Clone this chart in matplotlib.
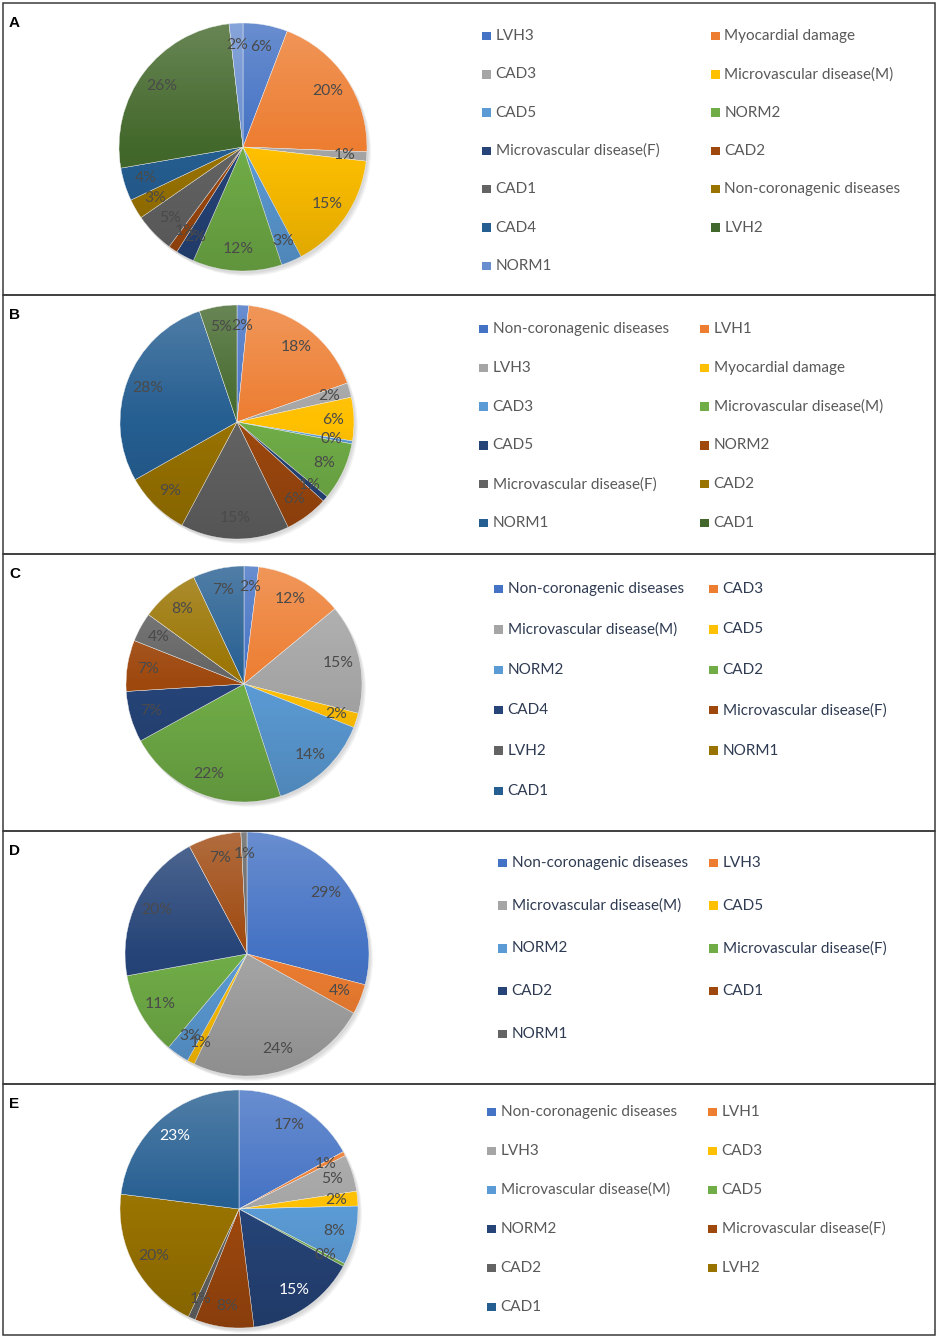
"""Five pie charts (A-E): class composition per cluster, Excel-style."""

import matplotlib
matplotlib.use("Agg")
import matplotlib.pyplot as plt
from matplotlib.patches import Rectangle, Circle
import numpy as np

plt.rcParams.update({
    "font.family": ["Lato", "DejaVu Sans"],
    "figure.dpi": 100,
})

W, H = 938, 1339

# Office palette, in series order
PALETTE = ["#4472C4", "#ED7D31", "#A5A5A5", "#FFC000", "#5B9BD5", "#70AD47",
           "#264478", "#9E480E", "#636363", "#997300", "#255E91", "#43682B",
           "#698ED0"]

A_LABELS = ["LVH3", "Myocardial damage", "CAD3", "Microvascular disease(M)",
            "CAD5", "NORM2", "Microvascular disease(F)", "CAD2", "CAD1",
            "Non-coronagenic diseases", "CAD4", "LVH2", "NORM1"]
A_VALUES = [5.8, 19.8, 1.2, 15.4, 2.7, 11.6, 2.4, 1.2, 5.2, 2.6, 4.3, 25.9, 1.8]

B_LABELS = ["Non-coronagenic diseases", "LVH1", "LVH3", "Myocardial damage",
            "CAD3", "Microvascular disease(M)", "CAD5", "NORM2",
            "Microvascular disease(F)", "CAD2", "NORM1", "CAD1"]
B_VALUES = [1.6, 18.0, 2.0, 6.0, 0.4, 8.0, 0.8, 6.0, 15.0, 9.0, 28.0, 5.2]

C_LABELS = ["Non-coronagenic diseases", "CAD3", "Microvascular disease(M)",
            "CAD5", "NORM2", "CAD2", "CAD4", "Microvascular disease(F)",
            "LVH2", "NORM1", "CAD1"]
C_VALUES = [2.0, 12.0, 15.0, 2.0, 14.0, 22.0, 7.0, 7.0, 4.0, 8.0, 7.0]

D_LABELS = ["Non-coronagenic diseases", "LVH3", "Microvascular disease(M)",
            "CAD5", "NORM2", "Microvascular disease(F)", "CAD2", "CAD1",
            "NORM1"]
D_VALUES = [29.0, 4.0, 24.0, 1.0, 3.0, 11.0, 20.0, 7.0, 0.8]

E_LABELS = ["Non-coronagenic diseases", "LVH1", "LVH3", "CAD3",
            "Microvascular disease(M)", "CAD5", "NORM2",
            "Microvascular disease(F)", "CAD2", "LVH2", "CAD1"]
E_VALUES = [17.0, 0.6, 5.0, 2.0, 8.0, 0.4, 15.0, 8.0, 1.0, 20.0, 23.0]

# slices whose percentage is printed in white
E_WHITE = [6, 10]

# layout in pixels: box top/bottom, pie centre + radius, legend columns
PANELS = [
    dict(letter="A", labels=A_LABELS, values=A_VALUES, white=[],
         top=3, bottom=295, cx=243, cy=147, r=124,
         cols=(482, 711), y0=36, pitch=38.3, tcolor="#595959"),
    dict(letter="B", labels=B_LABELS, values=B_VALUES, white=[],
         top=295, bottom=554, cx=237, cy=422, r=117,
         cols=(479, 700), y0=329, pitch=38.8, tcolor="#595959"),
    dict(letter="C", labels=C_LABELS, values=C_VALUES, white=[],
         top=554, bottom=831, cx=244, cy=684, r=118,
         cols=(494, 709), y0=589, pitch=40.4, tcolor="#2F3B52"),
    dict(letter="D", labels=D_LABELS, values=D_VALUES, white=[],
         top=831, bottom=1084, cx=247, cy=954, r=122,
         cols=(498, 709), y0=863, pitch=42.7, tcolor="#2F3B52"),
    dict(letter="E", labels=E_LABELS, values=E_VALUES, white=E_WHITE,
         top=1084, bottom=1335, cx=239, cy=1209, r=119,
         cols=(487, 708), y0=1112, pitch=39.0, tcolor="#595959"),
]


def fx(x):
    return x / W


def fy(y):
    return 1 - y / H


def shade_pie(ax):
    # soft vertical light/dark gradient over the pie, like the Excel fill
    t = np.linspace(0, 1, 256)
    img = np.zeros((256, 1, 4))
    top = t < 0.5
    img[top, 0, :3] = 1.0
    img[top, 0, 3] = 0.20 * (1 - 2 * t[top])
    img[~top, 0, 3] = 0.14 * (2 * t[~top] - 1)
    im = ax.imshow(img, extent=(-1, 1, -1, 1), aspect="auto", zorder=2,
                   interpolation="bilinear")
    im.set_clip_path(Circle((0, 0), 1, transform=ax.transData))


def draw_panel(fig, p):
    # frame box
    fig.patches.append(Rectangle((fx(3), fy(p["bottom"])), fx(935) - fx(3),
                                 fy(p["top"]) - fy(p["bottom"]),
                                 transform=fig.transFigure, fill=False,
                                 edgecolor="#3a3a3a", linewidth=1.1))
    fig.text(fx(9), fy(p["top"] + 24), p["letter"], fontsize=11,
             fontweight="bold", family="Liberation Sans", va="baseline")

    pad = 1.12
    r = p["r"]
    ax = fig.add_axes([fx(p["cx"] - pad * r), fy(p["cy"] + pad * r),
                       2 * pad * r / W, 2 * pad * r / H])
    colors = PALETTE[:len(p["values"])]

    # faint drop shadow
    for k, a in enumerate([0.05, 0.05, 0.05]):
        ax.add_patch(Circle((0.012 + 0.01 * k, -0.02 - 0.01 * k), 1.0,
                            color="black", alpha=a, zorder=0, lw=0))

    wedges, _, autotexts = ax.pie(
        p["values"], colors=colors, startangle=90, counterclock=False,
        autopct="%1.0f%%", pctdistance=0.82, radius=1,
        wedgeprops=dict(edgecolor="#f4f4f4", linewidth=0.3),
        textprops=dict(fontsize=11.3, color="#4a4a4a"))
    for i in p["white"]:
        autotexts[i].set_color("white")
    shade_pie(ax)
    ax.set_xlim(-pad, pad)
    ax.set_ylim(-pad, pad)
    ax.set_aspect("equal")
    ax.axis("off")

    # legend, row-major in two columns
    box = 8.5
    for i, (lab, col) in enumerate(zip(p["labels"], colors)):
        row, c = divmod(i, 2)
        x = p["cols"][c]
        y = p["y0"] + row * p["pitch"]
        fig.patches.append(Rectangle((fx(x), fy(y + box / 2)), box / W, box / H,
                                     transform=fig.transFigure,
                                     facecolor=col, edgecolor="none"))
        fig.text(fx(x + box + 5), fy(y), lab, fontsize=11,
                 color=p["tcolor"], va="center", ha="left")


def main():
    fig = plt.figure(figsize=(W / 100, H / 100), dpi=100)
    fig.patch.set_facecolor("white")
    for p in PANELS:
        draw_panel(fig, p)
    fig.savefig("out.png", dpi=100, facecolor="white")
    plt.close(fig)


if __name__ == "__main__":
    main()
